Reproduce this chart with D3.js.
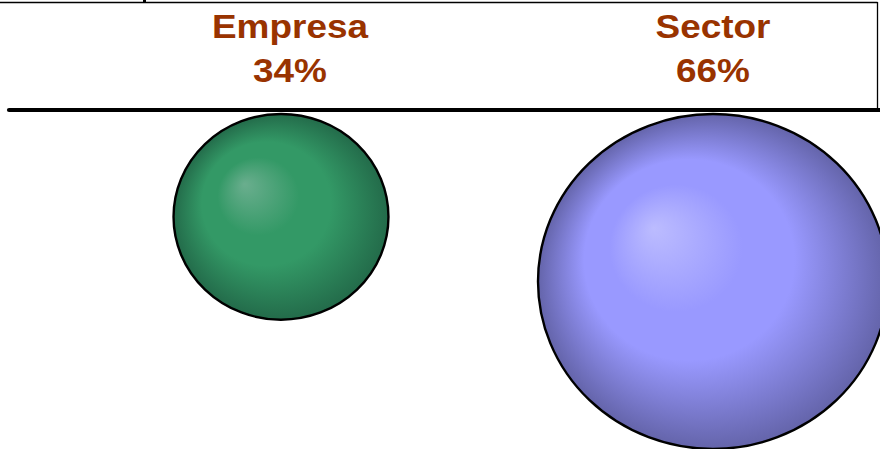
<!DOCTYPE html>
<html>
<head>
<meta charset="utf-8">
<script src="https://cdn.jsdelivr.net/npm/d3@7"></script>
<style>
  html, body { margin: 0; padding: 0; background: #fff; }
  svg { display: block; }
  .shareLabel { font-family: "Liberation Sans", Arial, sans-serif; font-weight: bold; font-size: 33px; fill: #993300; }
</style>
</head>
<body>
<div id="chart"></div>
<script>

//- Chart data
const categories = ["Empresa", "Sector"];
const shares = [34, 66];
const shareLabels = ["34%", "66%"];

//- Bubble styling, one entry per category
const bubbleColors = [
    { light: "#6aae8e", base: "#339966", dark: "#236b4a" },
    { light: "#bcbcff", base: "#9999ff", dark: "#6464aa" }
];

const WIDTH = 880;
const HEIGHT = 449;
const BASELINE_Y = 110;       // thick rule the bubbles hang from
const ASPECT = 1.045;         // bubbles are a touch wider than tall
const TEXT_STRETCH = 1.12;    // labels look horizontally stretched

let svg = d3.select("#chart").append("svg")
    .attr("width", WIDTH)
    .attr("height", HEIGHT);

//- Scales
let xScale = d3.scalePoint()
    .domain(categories)
    .range([281, 713]);

let rScale = d3.scalePow()
    .exponent(0.735)
    .domain([0, d3.max(shares)])
    .range([0, 175]);

//- Gradients
let defs = svg.append("defs");
bubbleColors.forEach((c, i) => {
    let grad = defs.append("radialGradient")
        .attr("id", `bubbleGrad${i}`)
        .attr("cx", "0.5").attr("cy", "0.5").attr("r", "0.5")
        .attr("fx", "0.33").attr("fy", "0.34");
    grad.append("stop").attr("offset", "0%").attr("stop-color", c.light);
    grad.append("stop").attr("offset", "38%").attr("stop-color", c.base);
    grad.append("stop").attr("offset", "60%").attr("stop-color", c.base);
    grad.append("stop").attr("offset", "100%").attr("stop-color", c.dark);
});

//- Frame lines
svg.append("line")
    .attr("x1", 0).attr("x2", 877.5)
    .attr("y1", 2.5).attr("y2", 2.5)
    .attr("stroke", "#000").attr("stroke-width", 1.3);

svg.append("line")
    .attr("x1", 877.5).attr("x2", 877.5)
    .attr("y1", 2).attr("y2", BASELINE_Y)
    .attr("stroke", "#000").attr("stroke-width", 1.3);

svg.append("rect")
    .attr("x", 143).attr("y", 0)
    .attr("width", 3).attr("height", 3)
    .attr("fill", "#000");

//- Bubbles
let bubbleData = categories.map((c, i) => ({
    name: c, value: shares[i], label: shareLabels[i], idx: i
}));

svg.selectAll("ellipse.bubble")
    .data(bubbleData)
    .enter()
    .append("ellipse")
    .attr("class", "bubble")
    .attr("cx", d => xScale(d.name))
    .attr("cy", d => BASELINE_Y + 4 + rScale(d.value) / ASPECT)
    .attr("rx", d => rScale(d.value))
    .attr("ry", d => rScale(d.value) / ASPECT)
    .attr("fill", d => `url(#bubbleGrad${d.idx})`)
    .attr("stroke", "#000")
    .attr("stroke-width", 2.4);

//- Thick rule
svg.append("line")
    .attr("x1", 9).attr("x2", WIDTH)
    .attr("y1", BASELINE_Y).attr("y2", BASELINE_Y)
    .attr("stroke", "#000").attr("stroke-width", 4.2)
    .attr("stroke-linecap", "round");

//- Labels
let labelNudge = [9, 0];   // first label sits slightly right of its bubble

let labelGroup = svg.append("g");

labelGroup.selectAll("text.name")
    .data(bubbleData)
    .enter()
    .append("text")
    .attr("class", "shareLabel name")
    .attr("text-anchor", "middle")
    .attr("transform", d => `translate(${xScale(d.name) + labelNudge[d.idx]}, 38) scale(${TEXT_STRETCH}, 1)`)
    .text(d => d.name);

labelGroup.selectAll("text.pct")
    .data(bubbleData)
    .enter()
    .append("text")
    .attr("class", "shareLabel pct")
    .attr("text-anchor", "middle")
    .attr("transform", d => `translate(${xScale(d.name) + labelNudge[d.idx]}, 82) scale(${TEXT_STRETCH}, 1)`)
    .text(d => d.label);

</script>
</body>
</html>
